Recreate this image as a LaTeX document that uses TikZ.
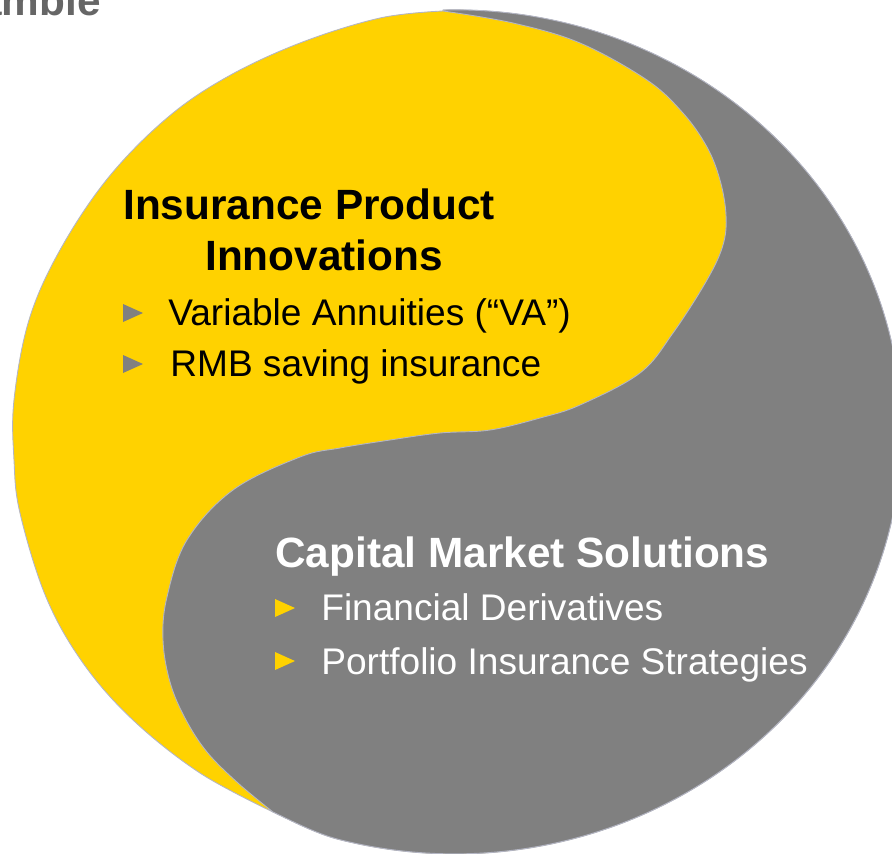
\documentclass[tikz,border=0pt]{standalone}
\usepackage{fontspec}
\setmainfont{Liberation Sans}
\definecolor{eyyellow}{RGB}{255,210,0}
\definecolor{eygray}{RGB}{128,128,128}
\definecolor{edgeline}{RGB}{180,182,196}
\definecolor{titlegray}{RGB}{102,102,102}

\begin{document}
\begin{tikzpicture}[x=0.02cm, y=-0.02cm,
  lobe/.style={draw=edgeline, line width=0.5pt, line join=round},
  headtext/.style={anchor=base west, inner sep=0pt,
    font={\fontsize{24.1pt}{29pt}\selectfont\bfseries}},
  itemtext/.style={anchor=base west, inner sep=0pt,
    font={\fontsize{21.1pt}{25pt}\selectfont}},
  bullet/.style={fill=#1}]

\path[use as bounding box] (0,0) rectangle (892,853);
\clip (0,0) rectangle (892,853);

% page heading, mostly outside the frame
\node[anchor=base east, inner sep=0pt, text=titlegray,
  font={\fontsize{24.1pt}{29pt}\selectfont\bfseries}] (title) at (101,15) {Preamble};

% yellow lobe: drawn as the whole disc, the grey lobe is laid over it
\fill[eyyellow, lobe]
  plot[smooth, tension=0.6] coordinates {
    (443,11) (380,18) (300,43) (227,77) (167,118) (108,178) (60,250)
    (29,320) (14,400) (14,460) (20,513) (46,597) (83,663) (133,720)
    (200,773) (273,812)}
  .. controls (290,820) and (316,833.7) .. (339,839.5)
  arc[start angle=105, end angle=-91.5, x radius=447, y radius=422]
  -- cycle;

% grey lobe: outer arc, then the S-shaped border back to the top
\fill[eygray, lobe]
  (443,10) arc[start angle=-91.5, end angle=105, x radius=447, y radius=422]
  .. controls (316,833.7) and (290,820) .. (273,812)
  -- plot[smooth, tension=0.6] coordinates {
    (273,812) (238,783) (207,752) (185,718) (170,682) (163,640) (167,597)
    (187,540) (233,490) (300,457) (340,448) (390,440) (440,433) (490,430)
    (540,418) (580,405) (640,373) (673,333) (707,280) (723,245) (726,215)
    (720,180) (707,147) (683,113) (647,80) (580,43) (513,23) (443,11)}
  -- cycle;

% insurance product block
\node[headtext] (iph1) at (123,219) {Insurance Product};
\node[headtext] (iph2) at (205,270) {Innovations};
\fill[bullet=eygray] (123,304) -- (143,313) -- (123,322) -- cycle;
\node[itemtext] (va) at (168,325) {Variable Annuities (“VA”)};
\fill[bullet=eygray] (123,355) -- (143,364) -- (123,373) -- cycle;
\node[itemtext] (rmb) at (170,376) {RMB saving insurance};

% capital market block
\node[headtext, text=white] (cmh) at (275,567) {Capital Market Solutions};
\fill[bullet=eyyellow] (275,599) -- (295,608) -- (275,617) -- cycle;
\node[itemtext, text=white] (fd) at (321,620) {Financial Derivatives};
\fill[bullet=eyyellow] (275,652) -- (295,661) -- (275,670) -- cycle;
\node[itemtext, text=white] (pis) at (321,674) {Portfolio Insurance Strategies};

\end{tikzpicture}
\end{document}
